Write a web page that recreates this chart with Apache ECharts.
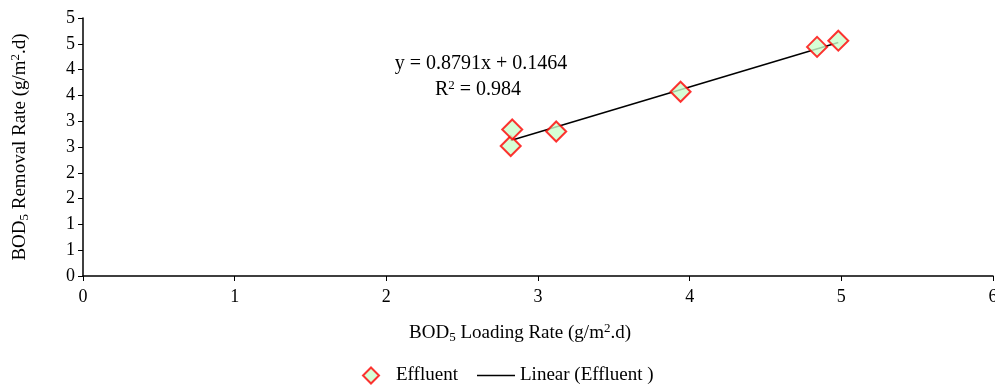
<!DOCTYPE html>
<html>
<head>
<meta charset="utf-8">
<script src="https://cdn.jsdelivr.net/npm/echarts@6/dist/echarts.min.js"></script>
<style>
  html, body { margin: 0; padding: 0; background: #fff; }
  #chart { width: 995px; height: 385px; }
</style>
</head>
<body>
<div id="chart"></div>
<script>
// BOD5 loading rate vs removal rate (g/m2.d)
const loadingRate = [2.82, 2.83, 3.12, 3.94, 4.84, 4.98]
const removalRate = [2.52, 2.84, 2.80, 3.57, 4.44, 4.56]
// Excel style rounded labels for 0, 0.5, 1 ... 5
const yTickLabels = ['0', '1', '1', '2', '2', '3', '3', '4', '4', '5', '5']
const xTickLabels = ['0', '1', '2', '3', '4', '5', '6']
const slope = 0.8791
const intercept = 0.1464
const r2 = 0.984

const font = 'Liberation Serif'
const rich = {
  sub: { fontFamily: font, fontSize: 13, verticalAlign: 'bottom', lineHeight: 22, color: '#000' },
  sup: { fontFamily: font, fontSize: 13, verticalAlign: 'top', lineHeight: 22, color: '#000' }
}

const points = loadingRate.map((x, i) => [x, removalRate[i]])
const xMin = Math.min(...loadingRate)
const xMax = Math.max(...loadingRate)
const trend = [[xMin, slope * xMin + intercept], [xMax, slope * xMax + intercept]]

const chart = echarts.init(document.getElementById('chart'))
chart.setOption({
  animation: false,
  textStyle: { fontFamily: font, color: '#000' },
  grid: { left: 83, right: 2, top: 18, bottom: 109, containLabel: false, outerBoundsMode: 'none' },
  legend: [{
    data: ['Effluent'],
    left: 357,
    top: 361,
    itemWidth: 16,
    itemHeight: 16,
    textStyle: { fontFamily: font, fontSize: 19, color: '#000', padding: [0, 0, 0, 12] }
  }, {
    data: ['Linear (Effluent )'],
    left: 472,
    top: 361,
    icon: 'rect',
    itemWidth: 38,
    itemHeight: 1.5,
    itemStyle: { color: '#000' },
    textStyle: { fontFamily: font, fontSize: 19, color: '#000' }
  }],
  xAxis: {
    type: 'value',
    min: 0,
    max: 6,
    interval: 1,
    name: 'BOD{sub|5} Loading Rate (g/m{sup|2}.d)',
    nameLocation: 'middle',
    nameGap: 46,
    nameTextStyle: { fontFamily: font, fontSize: 19, color: '#000', lineHeight: 22, padding: [0, 36, 0, 0], rich: rich },
    axisLine: { lineStyle: { color: '#000', width: 1.5 } },
    axisTick: { show: true, length: 5, lineStyle: { color: '#000' } },
    axisLabel: {
      margin: 12,
      fontSize: 18,
      color: '#000',
      fontFamily: font,
      formatter: (v, i) => xTickLabels[i]
    },
    splitLine: { show: false }
  },
  yAxis: {
    type: 'value',
    min: 0,
    max: 5,
    interval: 0.5,
    name: 'BOD{sub|5} Removal Rate (g/m{sup|2}.d)',
    nameLocation: 'middle',
    nameGap: 52,
    nameTextStyle: { fontFamily: font, fontSize: 19, color: '#000', lineHeight: 22, rich: rich },
    axisLine: { show: true, lineStyle: { color: '#000', width: 1.5 } },
    axisTick: { show: true, length: 5, lineStyle: { color: '#000' } },
    axisLabel: {
      margin: 8,
      fontSize: 18,
      color: '#000',
      fontFamily: font,
      formatter: (v, i) => yTickLabels[i]
    },
    splitLine: { show: false }
  },
  graphic: [{
    type: 'text',
    x: 481,
    y: 64,
    style: {
      text: 'y = ' + slope + 'x + ' + intercept,
      fontFamily: font,
      fontSize: 20,
      fill: '#000',
      align: 'center',
      verticalAlign: 'middle'
    }
  }, {
    type: 'text',
    x: 478,
    y: 90,
    style: {
      text: 'R{sup|2} = ' + r2,
      fontFamily: font,
      fontSize: 20,
      fill: '#000',
      align: 'center',
      verticalAlign: 'middle',
      rich: rich
    }
  }],
  series: [{
    name: 'Effluent',
    type: 'scatter',
    data: points,
    symbol: 'diamond',
    symbolSize: 20,
    itemStyle: { color: '#ccffcc', borderColor: '#ff0000', borderWidth: 2 },
    z: 3
  }, {
    name: 'Linear (Effluent )',
    type: 'line',
    data: trend,
    symbol: 'none',
    lineStyle: { color: '#000', width: 1.5 },
    z: 2
  }]
})
</script>
</body>
</html>
